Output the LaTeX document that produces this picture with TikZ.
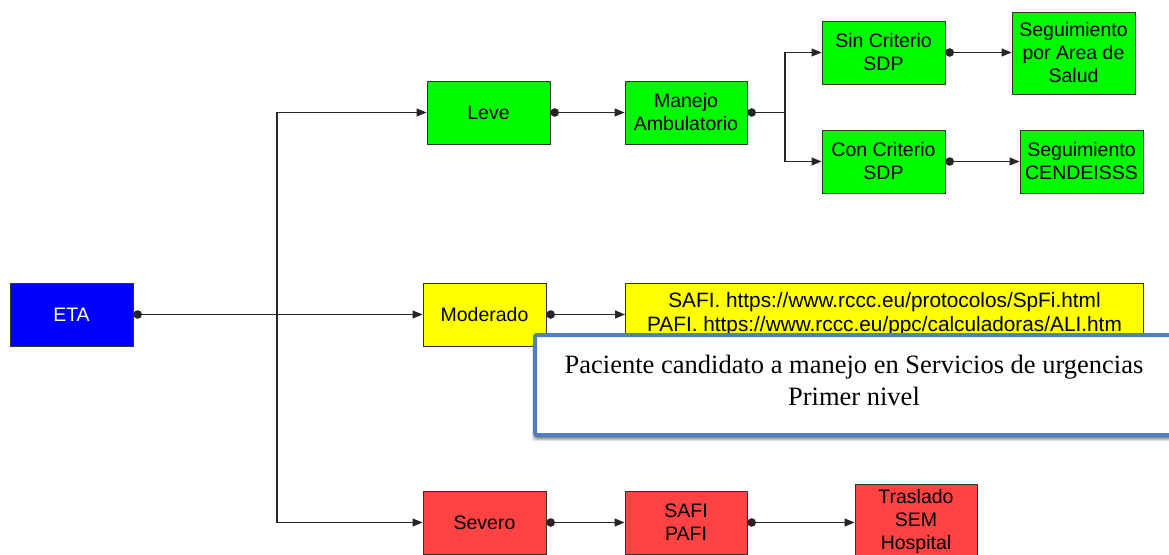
\documentclass[tikz,border=0pt]{standalone}
\usepackage{fontspec}
\setmainfont{Liberation Sans}
\newfontfamily\calloutfont{Liberation Serif}
\usetikzlibrary{arrows.meta,shadows,positioning}

\definecolor{boxgreen}{RGB}{0,250,0}
\definecolor{boxyellow}{RGB}{255,255,0}
\definecolor{boxred}{RGB}{255,66,66}
\definecolor{boxblue}{RGB}{0,0,255}
\definecolor{boxline}{RGB}{50,50,50}
\definecolor{calloutblue}{RGB}{79,127,189}

\tikzset{
  flowbox/.style={draw=boxline, line width=0.9pt, rectangle, inner sep=0pt,
    minimum width=123pt, minimum height=63pt, align=center,
    font=\fontsize{19.5}{23}\selectfont},
  greenbox/.style={flowbox, fill=boxgreen},
  yellowbox/.style={flowbox, fill=boxyellow},
  redbox/.style={flowbox, fill=boxred},
  link/.style={draw=black!85, line width=1.1pt,
    {Circle[length=8.5pt]}-{Triangle[length=10pt,width=8pt]}},
  branch/.style={draw=black!85, line width=1.1pt,
    -{Triangle[length=10pt,width=8pt]}},
}

\begin{document}
\begin{tikzpicture}[x=1pt,y=-1pt]
  \useasboundingbox (0,0) rectangle (1169,554);
  \clip (0,0) rectangle (1169,554);
  \fill[white] (0,0) rectangle (1169,554);

  % root
  \node[flowbox, fill=boxblue, text=white] (eta) at (71.5,314.5) {ETA};

  % mild branch
  \node[greenbox] (leve) at (488.5,112.5) {Leve};
  \node[greenbox, minimum width=122pt] (manejo) at (686,112.5) {Manejo\\Ambulatorio};
  \node[greenbox] (sin) at (883.5,52.5) {Sin Criterio\\SDP};
  \node[greenbox, minimum height=82pt] (segarea) at (1073.5,53) {Seguimiento\\por Area de\\Salud};
  \node[greenbox] (con) at (883.5,161.5) {Con Criterio\\SDP};
  \node[greenbox] (cend) at (1081.5,161.5) {Seguimiento\\CENDEISSS};

  % moderate branch
  \node[yellowbox] (moderado) at (484.5,314.5) {Moderado};
  \node[yellowbox, minimum width=518pt, anchor=west, font=\fontsize{20.8}{24}\selectfont] (urls) at (625,314.5)
    {SAFI. https://www.rccc.eu/protocolos/SpFi.html\\PAFI. https://www.rccc.eu/ppc/calculadoras/ALI.htm};

  % severe branch
  \node[redbox] (severo) at (484.5,522.5) {Severo};
  \node[redbox, minimum width=122pt] (safi) at (686,522.5) {SAFI\\PAFI};
  \node[redbox, minimum width=122pt, minimum height=74pt] (traslado) at (916,521) {Traslado\\SEM\\Hospital};

  % junctions
  \coordinate (trunk) at (277,314.5);
  \coordinate (split) at (785,112.5);

  % connectors
  \draw[link] (eta.east) -- (moderado.west);
  \draw[branch] (trunk) |- (leve.west);
  \draw[branch] (trunk) |- (severo.west);
  \draw[link] (leve.east) -- (manejo.west);
  \draw[draw=black!85, line width=1.1pt, {Circle[length=8.5pt]}-] (manejo.east) -- (split);
  \draw[branch] (split) |- (sin.west);
  \draw[branch] (split) |- (con.west);
  \draw[link] (sin.east) -- (sin.east -| segarea.west);
  \draw[link] (con.east) -- (cend.west);
  \draw[link] (moderado.east) -- (urls.west);
  \draw[link] (severo.east) -- (safi.west);
  \draw[link] (safi.east) -- (safi.east -| traslado.west);

  % callout with a soft shadow below it
  \foreach \s/\o in {6/0.10, 5/0.12, 4/0.15, 3/0.18}
    \fill[black, opacity=\o, rounded corners=3pt]
      (535-\s+3,335+\s) rectangle (1175,435+\s);
  \node[draw=calloutblue, line width=4pt, fill=white, rectangle, inner sep=0pt,
    rounded corners=1.5pt, minimum width=640pt, minimum height=100pt]
    (callout) at (855,385) {};
  \node[align=center, inner sep=0pt, font=\calloutfont\fontsize{26.5}{32}\selectfont]
    (callouttext) at (854,380) {Paciente candidato a manejo en Servicios de urgencias\\Primer nivel};
\end{tikzpicture}
\end{document}
